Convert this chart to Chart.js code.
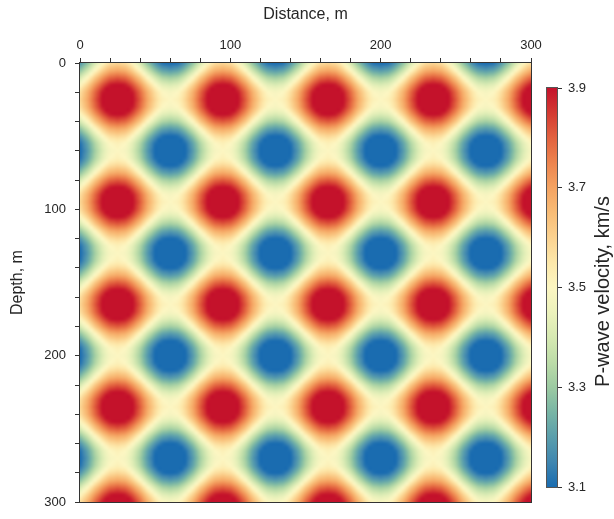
<!DOCTYPE html>
<html><head><meta charset="utf-8">
<script src="https://cdn.jsdelivr.net/npm/chart.js@4.4.0/dist/chart.umd.min.js"></script>
<style>
html,body{margin:0;padding:0;background:#fff;}
#wrap{position:relative;width:614px;height:519px;}
#wrap canvas{position:absolute;left:0;top:0;}
</style></head><body>
<div id="wrap"><canvas id="main" width="614" height="519"></canvas><canvas id="cbar" width="614" height="519"></canvas></div>
<script>
// ---- data ----
const distanceTicks = [0, 100, 200, 300];
const depthTicks = [0, 100, 200, 300];
const colorbarTicks = [3.1, 3.3, 3.5, 3.7, 3.9];
const backgroundVelocity = 3.5;          // km/s (cream lattice)
const gridStep = 2.5;                    // m between read samples
// velocity anomaly (km/s) read along distance, every 2.5 m from 0 to 300 m
const distanceAnomaly = [
  -0.16,-0.11,-0.06,0,0.06,0.11,0.16,0.2,0.23,0.24,0.25,0.24,0.23,0.2,0.16,0.11,0.06,0,-0.06,-0.11,-0.16,-0.2,-0.23,-0.24,-0.25,-0.24,-0.23,-0.2,
  -0.16,-0.11,-0.06,0,0.06,0.11,0.16,0.2,0.23,0.24,0.25,0.24,0.23,0.2,0.16,0.11,0.06,0,-0.06,-0.11,-0.16,-0.2,-0.23,-0.24,-0.25,-0.24,-0.23,-0.2,
  -0.16,-0.11,-0.06,0,0.06,0.11,0.16,0.2,0.23,0.24,0.25,0.24,0.23,0.2,0.16,0.11,0.06,0,-0.06,-0.11,-0.16,-0.2,-0.23,-0.24,-0.25,-0.24,-0.23,-0.2,
  -0.16,-0.11,-0.06,0,0.06,0.11,0.16,0.2,0.23,0.24,0.25,0.24,0.23,0.2,0.16,0.11,0.06,0,-0.06,-0.11,-0.16,-0.2,-0.23,-0.24,-0.25,-0.24,-0.23,-0.2,
  -0.16,-0.11,-0.06,0,0.06,0.11,0.16,0.2,0.23
];
// velocity anomaly (km/s) read along depth, every 2.5 m from 0 to 300 m
const depthAnomaly = [
  -0.16,-0.11,-0.06,0,0.06,0.11,0.16,0.2,0.23,0.24,0.25,0.24,0.23,0.2,0.16,0.11,0.06,0,-0.06,-0.11,-0.16,-0.2,-0.23,-0.24,-0.25,-0.24,-0.23,-0.2,
  -0.16,-0.11,-0.06,0,0.06,0.11,0.16,0.2,0.23,0.24,0.25,0.24,0.23,0.2,0.16,0.11,0.06,0,-0.06,-0.11,-0.16,-0.2,-0.23,-0.24,-0.25,-0.24,-0.23,-0.2,
  -0.16,-0.11,-0.06,0,0.06,0.11,0.16,0.2,0.23,0.24,0.25,0.24,0.23,0.2,0.16,0.11,0.06,0,-0.06,-0.11,-0.16,-0.2,-0.23,-0.24,-0.25,-0.24,-0.23,-0.2,
  -0.16,-0.11,-0.06,0,0.06,0.11,0.16,0.2,0.23,0.24,0.25,0.24,0.23,0.2,0.16,0.11,0.06,0,-0.06,-0.11,-0.16,-0.2,-0.23,-0.24,-0.25,-0.24,-0.23,-0.2,
  -0.16,-0.11,-0.06,0,0.06,0.11,0.16,0.2,0.23
];

// ---- styles ----
const colorStops = [
  [3.10,'#1a6cb0'],[3.15,'#3f86b0'],[3.20,'#5a9eac'],[3.25,'#78b5a5'],[3.30,'#9ccaa2'],
  [3.35,'#bcdca8'],[3.40,'#d6e9b2'],[3.45,'#ecf2bc'],[3.50,'#fcf6c2'],[3.55,'#fde8aa'],
  [3.60,'#fbd290'],[3.65,'#f8bc76'],[3.70,'#f4a362'],[3.75,'#ed844e'],[3.80,'#e2623f'],
  [3.85,'#d43a32'],[3.90,'#c4122b']
];
const FONT = "'Liberation Sans', Arial, Helvetica, sans-serif";
const TEXT = '#262626';
const AXIS = '#333333';
Chart.defaults.font.family = FONT;
Chart.defaults.color = TEXT;

function hexRgb(h){ return [parseInt(h.slice(1,3),16),parseInt(h.slice(3,5),16),parseInt(h.slice(5,7),16)]; }
const stopRgb = colorStops.map(s => [s[0], hexRgb(s[1])]);
function colorFor(v){
  const lo = stopRgb[0][0], hi = stopRgb[stopRgb.length-1][0];
  if (v <= lo) return stopRgb[0][1];
  if (v >= hi) return stopRgb[stopRgb.length-1][1];
  for (let k=0;k<stopRgb.length-1;k++){
    const a = stopRgb[k], b = stopRgb[k+1];
    if (v >= a[0] && v <= b[0]){
      const t = (v-a[0])/(b[0]-a[0]);
      return [0,1,2].map(c => Math.round(a[1][c] + (b[1][c]-a[1][c])*t));
    }
  }
  return stopRgb[0][1];
}

const heatmapPlugin = {
  id: 'heatmap',
  beforeDatasetsDraw(chart){
    const {ctx, chartArea: a, scales: {x, y}} = chart;
    const nx = distanceAnomaly.length, nz = depthAnomaly.length;
    const off = document.createElement('canvas'); off.width = nx; off.height = nz;
    const octx = off.getContext('2d');
    const img = octx.createImageData(nx, nz);
    for (let j=0;j<nz;j++){
      for (let i=0;i<nx;i++){
        const v = backgroundVelocity + distanceAnomaly[i] + depthAnomaly[j];
        const c = colorFor(v);
        const k = (j*nx+i)*4;
        img.data[k]=c[0]; img.data[k+1]=c[1]; img.data[k+2]=c[2]; img.data[k+3]=255;
      }
    }
    octx.putImageData(img,0,0);
    const x0 = x.getPixelForValue(-gridStep/2), x1 = x.getPixelForValue((nx-1)*gridStep + gridStep/2);
    const y0 = y.getPixelForValue(-gridStep/2), y1 = y.getPixelForValue((nz-1)*gridStep + gridStep/2);
    ctx.save();
    ctx.beginPath(); ctx.rect(a.left, a.top, a.right-a.left, a.bottom-a.top); ctx.clip();
    ctx.imageSmoothingEnabled = true; ctx.imageSmoothingQuality = 'high';
    ctx.drawImage(off, Math.min(x0,x1), Math.min(y0,y1), Math.abs(x1-x0), Math.abs(y1-y0));
    ctx.restore();
  },
  afterDraw(chart){
    const {ctx, chartArea: a} = chart;
    ctx.save();
    ctx.strokeStyle = AXIS; ctx.lineWidth = 1;
    ctx.strokeRect(Math.round(a.left)-0.5, Math.round(a.top)-0.5, Math.round(a.right-a.left)+1, Math.round(a.bottom-a.top)+1);
    ctx.restore();
  }
};

new Chart(document.getElementById('main'), {
  type: 'scatter',
  data: { datasets: [] },
  options: {
    responsive: false, animation: false, events: [],
    layout: { padding: { left: 0, top: 0, right: 83, bottom: 8 } },
    plugins: { legend: { display: false }, tooltip: { enabled: false } },
    scales: {
      x: {
        type: 'linear', position: 'top', min: 0, max: 300,
        ticks: { stepSize: 20, autoSkip: false, maxRotation: 0, padding: 5,
                 font: { size: 13 }, color: TEXT,
                 callback: v => distanceTicks.includes(v) ? String(v) : '' },
        grid: { drawOnChartArea: false, tickLength: 5, color: AXIS, tickWidth: 1 },
        border: { color: AXIS, width: 1 },
        title: { display: true, text: 'Distance, m', font: { size: 16 }, color: TEXT, padding: { top: 5, bottom: 0 } },
        afterFit: s => { s.height = 63; }
      },
      y: {
        type: 'linear', position: 'left', reverse: true, min: 0, max: 300,
        ticks: { stepSize: 20, autoSkip: false, padding: 9,
                 font: { size: 13 }, color: TEXT,
                 callback: v => depthTicks.includes(v) ? String(v) : '' },
        grid: { drawOnChartArea: false, tickLength: 5, color: AXIS, tickWidth: 1 },
        border: { color: AXIS, width: 1 },
        title: { display: true, text: 'Depth, m', font: { size: 16 }, color: TEXT, padding: { top: 8, bottom: 0 } },
        afterFit: s => { s.width = 80; }
      }
    }
  },
  plugins: [heatmapPlugin]
});

const colorbarPlugin = {
  id: 'colorbar',
  beforeDatasetsDraw(chart){
    const {ctx, chartArea: a, scales: {y}} = chart;
    const g = ctx.createLinearGradient(0, y.getPixelForValue(colorStops[0][0]), 0, y.getPixelForValue(colorStops[colorStops.length-1][0]));
    const span = colorStops[colorStops.length-1][0] - colorStops[0][0];
    colorStops.forEach(s => g.addColorStop((s[0]-colorStops[0][0])/span, s[1]));
    ctx.save();
    ctx.fillStyle = g;
    ctx.fillRect(a.left, a.top, a.right-a.left, a.bottom-a.top);
    ctx.restore();
  },
  afterDraw(chart){
    const {ctx, chartArea: a} = chart;
    ctx.save();
    ctx.strokeStyle = '#555'; ctx.lineWidth = 1;
    ctx.strokeRect(Math.round(a.left)-0.5, Math.round(a.top)-0.5, Math.round(a.right-a.left)+1, Math.round(a.bottom-a.top)+1);
    ctx.fillStyle = TEXT;
    ctx.font = "20px " + FONT;
    ctx.textAlign = 'center'; ctx.textBaseline = 'middle';
    ctx.translate(603, (a.top + a.bottom)/2 + 4);
    ctx.rotate(-Math.PI/2);
    ctx.fillText('P-wave velocity, km/s', 0, 0);
    ctx.restore();
  }
};

new Chart(document.getElementById('cbar'), {
  type: 'scatter',
  data: { datasets: [] },
  options: {
    responsive: false, animation: false, events: [],
    layout: { padding: { left: 547, top: 88, right: 0, bottom: 32 } },
    plugins: { legend: { display: false }, tooltip: { enabled: false } },
    scales: {
      x: { display: false },
      y: {
        type: 'linear', position: 'right', min: 3.1, max: 3.9,
        afterBuildTicks: s => { s.ticks = colorbarTicks.map(v => ({ value: v })); },
        ticks: { padding: 6, font: { size: 13 }, color: TEXT, callback: v => Number(v).toFixed(1) },
        grid: { drawOnChartArea: false, tickLength: 5, color: AXIS },
        border: { color: '#555', width: 1 },
        afterFit: s => { s.width = 57; }
      }
    }
  },
  plugins: [colorbarPlugin]
});
</script>
</body></html>
